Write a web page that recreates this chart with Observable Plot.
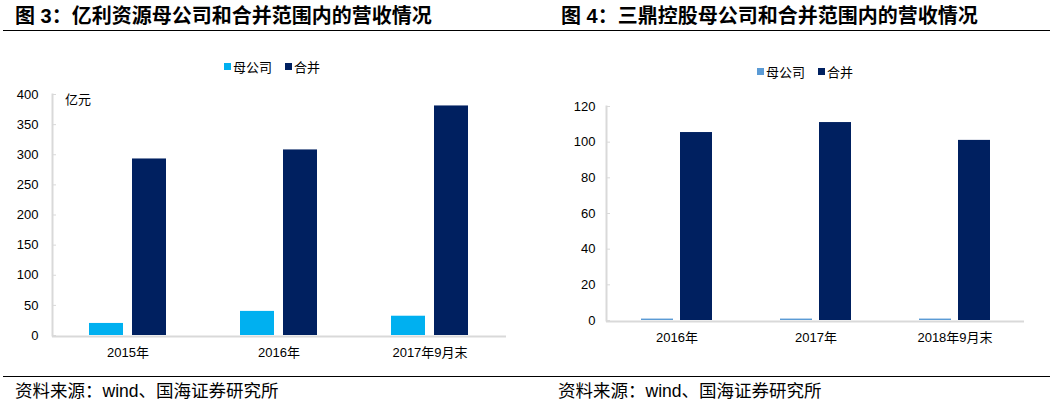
<!DOCTYPE html>
<html><head><meta charset="utf-8">
<script src="https://cdn.jsdelivr.net/npm/d3@7"></script>
<script src="https://cdn.jsdelivr.net/npm/@observablehq/plot@0.6"></script>
<style>
body{margin:0;background:#fff;}
#root{position:relative;width:1050px;height:404px;overflow:hidden;background:#fff;}
.title{position:absolute;top:6px;font-family:"Liberation Sans","Noto Sans CJK SC",sans-serif;font-weight:bold;font-size:20px;line-height:20px;white-space:nowrap;color:#000;}
.hline{position:absolute;left:3px;width:1047px;height:1px;background:#000;}
.source{position:absolute;top:383px;font-family:"Liberation Sans","Noto Sans CJK SC",sans-serif;font-size:17.5px;line-height:17px;white-space:nowrap;color:#000;}
.chart{position:absolute;top:40px;}
.legend{position:absolute;font-family:"Noto Sans CJK SC",sans-serif;font-size:13px;line-height:13px;white-space:nowrap;color:#000;display:flex;align-items:center;}
.legend .sw{display:inline-block;width:7px;height:7px;margin-right:2px;}
.legend .item{display:flex;align-items:center;margin-right:13px;}
</style>
</head><body>
<div id="root">
  <div class="title" style="left:15px">图 3：亿利资源母公司和合并范围内的营收情况</div>
  <div class="title" style="left:561px">图 4：三鼎控股母公司和合并范围内的营收情况</div>
  <div class="hline" style="top:30px"></div>
  <div class="hline" style="top:376px"></div>
  <div class="source" style="left:15px">资料来源：wind、国海证券研究所</div>
  <div class="source" style="left:558px">资料来源：wind、国海证券研究所</div>
  <div id="c1" class="chart" style="left:0px"></div>
  <div id="c2" class="chart" style="left:525px"></div>
  <div id="l1" class="legend" style="left:224px;top:60px"></div>
  <div id="l2" class="legend" style="left:757px;top:65px"></div>
  <div class="legend" style="left:65px;top:92px">亿元</div>
</div>
<script>
// Chart 1: 亿利资源
const cats1 = ["2015年", "2016年", "2017年9月末"];
const parent1 = [20, 40, 32];
const consolidated1 = [293, 308, 381];
const yTicks1 = [0, 50, 100, 150, 200, 250, 300, 350, 400];

// Chart 2: 三鼎控股
const cats2 = ["2016年", "2017年", "2018年9月末"];
const parent2 = [0.8, 0.8, 0.8];
const consolidated2 = [105.4, 111, 101];
const yTicks2 = [0, 20, 40, 60, 80, 100, 120];

const seriesNames = ["母公司", "合并"];
const colors1 = ["#00b0f0", "#002060"];
const colors2 = ["#5b9bd5", "#002060"];

const axisFont = '"Liberation Sans", Arial, "Noto Sans CJK SC", sans-serif';

function makeChart(cats, parent, cons, yTicks, colors, opts) {
  const d1 = cats.map((c, i) => ({cat: c, v: parent[i]}));
  const d2 = cats.map((c, i) => ({cat: c, v: cons[i]}));
  return Plot.plot({
    width: 525,
    height: 330,
    marginTop: opts.mt,
    marginBottom: opts.mb,
    marginLeft: opts.ml,
    marginRight: opts.mr,
    style: {fontFamily: axisFont, fontSize: "13px", color: "#000", background: "transparent", overflow: "visible"},
    x: {domain: cats, paddingInner: 0.49, paddingOuter: 0.245, label: null},
    y: {domain: [yTicks[0], yTicks[yTicks.length - 1]], label: null},
    marks: [
      Plot.ruleY([0], {stroke: "#d9d9d9", strokeWidth: 2, dy: 1}),
      Plot.frame({anchor: "left", stroke: "#d9d9d9", strokeWidth: 2}),
      Plot.barY(d1, {x: "cat", y: "v", fill: colors[0], insetRight: opts.inset}),
      Plot.barY(d2, {x: "cat", y: "v", fill: colors[1], insetLeft: opts.inset}),
      Plot.axisY(yTicks, {tickSize: -4, tickPadding: opts.tp, stroke: "#d9d9d9", fill: "#000", label: null}),
      Plot.axisX({tickSize: 0, tickPadding: 12, fill: "#000", label: null})
    ]
  });
}

document.getElementById("c1").appendChild(makeChart(cats1, parent1, consolidated1, yTicks1, colors1,
  {mt: 54, mb: 35, ml: 52, mr: 19, inset: 43, tp: 18}));
document.getElementById("c2").appendChild(makeChart(cats2, parent2, consolidated2, yTicks2, colors2,
  {mt: 66, mb: 50, ml: 81, mr: 26, inset: 39, tp: 15}));

function legend(id, colors) {
  const el = document.getElementById(id);
  seriesNames.forEach((n, i) => {
    const it = document.createElement("span");
    it.className = "item";
    const sw = document.createElement("span");
    sw.className = "sw";
    sw.style.background = colors[i];
    it.appendChild(sw);
    it.appendChild(document.createTextNode(n));
    el.appendChild(it);
  });
}
legend("l1", colors1);
legend("l2", colors2);
</script>
</body></html>
